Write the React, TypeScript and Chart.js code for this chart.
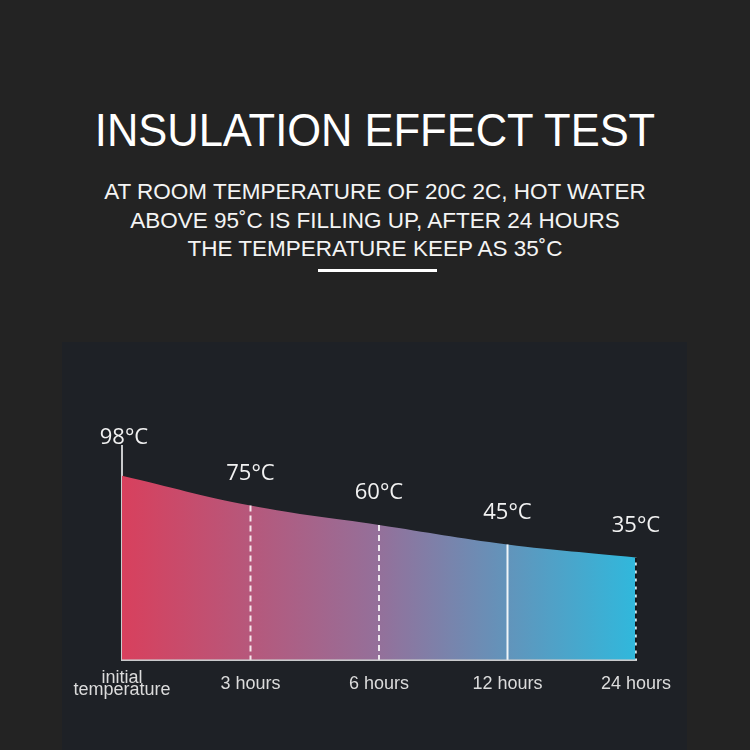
import { useEffect, useRef } from "react";
import { Chart, registerables } from "chart.js";

Chart.register(...registerables);

// Temperature of the water at each checkpoint after filling
const stages: (string | string[])[] = [["initial", "temperature"], "3 hours", "6 hours", "12 hours", "24 hours"];
const temperatures = [98, 75, 60, 45, 35];
const unit = "°C";

const heading = "INSULATION EFFECT TEST";
const subheading = [
  "AT ROOM TEMPERATURE OF 20C 2C, HOT WATER",
  "ABOVE 95˚C IS FILLING UP, AFTER 24 HOURS",
  "THE TEMPERATURE KEEP AS 35˚C",
];

const PAGE_BG = "#232323";
const PANEL_BG = "#1e2126";
const AXIS_COLOR = "#c9cacc";

// Drops a vertical marker from each later checkpoint down to the axis,
// then writes the temperature above every point.
const markersPlugin = {
  id: "markers",
  afterDatasetsDraw(chart: Chart) {
    const { ctx, chartArea } = chart;
    const meta = chart.getDatasetMeta(0);
    const data = chart.data.datasets[0].data as number[];
    ctx.save();
    meta.data.forEach((pt: any, i: number) => {
      if (i === 0) return;
      const x = pt.x;
      const top = pt.y;
      const bottom = chartArea.bottom;
      ctx.beginPath();
      ctx.moveTo(x, top);
      ctx.lineTo(x, bottom);
      if (i === data.length - 1) {
        ctx.setLineDash([]);
        ctx.strokeStyle = "rgba(255,255,255,0.9)";
        ctx.lineWidth = 1.5;
        ctx.stroke();
        ctx.beginPath();
        ctx.moveTo(x, top);
        ctx.lineTo(x, bottom);
        ctx.setLineDash([5, 3]);
        ctx.strokeStyle = "#15171a";
        ctx.lineWidth = 2;
        ctx.stroke();
      } else if (i === 3) {
        ctx.setLineDash([]);
        ctx.strokeStyle = "rgba(255,255,255,0.9)";
        ctx.lineWidth = 2;
        ctx.stroke();
      } else {
        ctx.setLineDash([6, 4]);
        ctx.strokeStyle = "rgba(255,255,255,0.85)";
        ctx.lineWidth = 2;
        ctx.stroke();
      }
    });
    ctx.setLineDash([]);
    ctx.fillStyle = "#f2f2f2";
    ctx.font = "22px 'Open Sans', 'Noto Sans', sans-serif";
    ctx.textAlign = "center";
    ctx.textBaseline = "middle";
    meta.data.forEach((pt: any, i: number) => {
      ctx.fillText(`${data[i]}${unit}`, pt.x + (i === 0 ? 2 : 0), pt.y - (i === 0 ? 38 : 32));
    });
    ctx.restore();
  },
};

function TemperatureChart() {
  const canvasRef = useRef<HTMLCanvasElement | null>(null);

  useEffect(() => {
    if (!canvasRef.current) return;
    const chart = new Chart(canvasRef.current, {
      type: "line",
      data: {
        labels: stages,
        datasets: [
          {
            data: temperatures,
            fill: "start",
            tension: 0.4,
            borderWidth: 0,
            pointRadius: 0,
            backgroundColor: (c: any) => {
              const { chart: ch } = c;
              const area = ch.chartArea;
              if (!area) return "#d8415e";
              const g = ch.ctx.createLinearGradient(area.left, 0, area.right, 0);
              g.addColorStop(0, "#d8405d");
              g.addColorStop(0.5, "#94709a");
              g.addColorStop(1, "#30b8dc");
              return g;
            },
          },
        ],
      },
      options: {
        responsive: false,
        animation: false,
        layout: { padding: { left: 60, right: 51, top: 104, bottom: 36 } },
        plugins: {
          legend: { display: false },
          tooltip: { enabled: false },
        },
        scales: {
          x: {
            // invisible tick marks give the labels their vertical gap
            grid: { display: true, drawOnChartArea: false, drawTicks: true, tickLength: 7, tickColor: "rgba(0,0,0,0)" },
            border: { display: true, color: AXIS_COLOR, width: 3 },
            ticks: {
              color: "#dcdcdc",
              font: { family: "'Liberation Sans', Arial, sans-serif", size: 18, lineHeight: 0.7 },
              padding: 11,
              maxRotation: 0,
              autoSkip: false,
              crossAlign: "center",
            },
          },
          y: {
            min: -44,
            max: 121,
            grid: { display: false, drawTicks: false },
            border: { display: true, color: AXIS_COLOR, width: 2 },
            ticks: { display: false },
          },
        },
      },
      plugins: [markersPlugin],
    });
    return () => chart.destroy();
  }, []);

  return <canvas ref={canvasRef} width={625} height={408} style={{ display: "block" }} />;
}

export default function App() {
  return (
    <div
      style={{
        position: "absolute",
        left: 0,
        top: 0,
        width: 750,
        height: 750,
        overflow: "hidden",
        background: PAGE_BG,
        fontFamily: "'Liberation Sans', Arial, sans-serif",
        color: "#ffffff",
      }}
    >
      <div
        style={{
          position: "absolute",
          top: 107,
          left: 0,
          width: 750,
          textAlign: "center",
          fontSize: 46,
          lineHeight: "46px",
          whiteSpace: "nowrap",
          transform: "scaleX(0.945)",
        }}
      >
        {heading}
      </div>
      <div
        style={{
          position: "absolute",
          top: 178,
          left: 0,
          width: 750,
          textAlign: "center",
          fontSize: 22.5,
          lineHeight: "28.5px",
          color: "#f4f4f4",
        }}
      >
        {subheading.map((line) => (
          <div key={line}>{line}</div>
        ))}
      </div>
      <div style={{ position: "absolute", top: 269, left: 318, width: 119, height: 3, background: "#ffffff" }} />
      <div style={{ position: "absolute", left: 62, top: 342, width: 625, height: 408, background: PANEL_BG }}>
        <TemperatureChart />
      </div>
    </div>
  );
}
